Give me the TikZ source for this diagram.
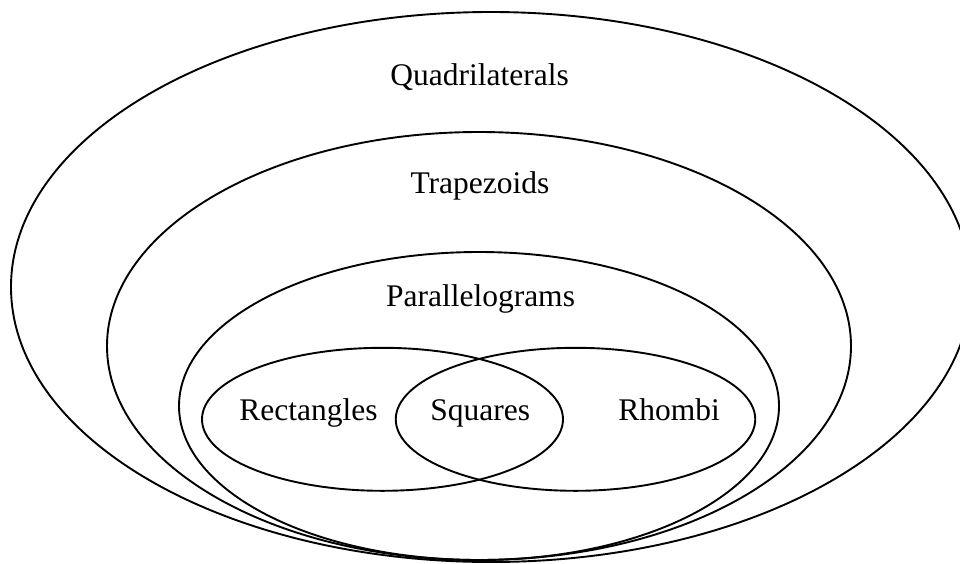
\documentclass[tikz,border=0pt]{standalone}
\usepackage{fontspec}
\setmainfont{Liberation Serif}
\usetikzlibrary{shapes.geometric}
\tikzset{
  setshape/.style={draw, ellipse, line width=1.9pt, inner sep=0pt, outer sep=0pt},
  setlabel/.style={anchor=base, inner sep=0pt, font=\fontsize{31.5}{36}\selectfont}
}
\begin{document}
\begin{tikzpicture}[x=1pt,y=-1pt]
\useasboundingbox (0,0) rectangle (960,563);
\node[setshape, minimum width=960pt, minimum height=550pt] (quad) at (491,287) {};
\node[setshape, minimum width=744pt, minimum height=428pt] (trap) at (479,346) {};
\node[setshape, minimum width=600pt, minimum height=308pt] (para) at (479,406) {};
\node[setshape, minimum width=361pt, minimum height=143pt] (rect) at (382.5,419.3) {};
\node[setshape, minimum width=359.5pt, minimum height=143pt] (rhom) at (575.5,419.3) {};
\node[setlabel] (lquad) at (479.7,85) {Quadrilaterals};
\node[setlabel] (ltrap) at (480,193.3) {Trapezoids};
\node[setlabel] (lpara) at (480.5,306.7) {Parallelograms};
\node[setlabel] (lrect) at (308.5,420) {Rectangles};
\node[setlabel] (lsq) at (480.3,420) {Squares};
\node[setlabel] (lrho) at (669.2,420) {Rhombi};
\end{tikzpicture}
\end{document}
